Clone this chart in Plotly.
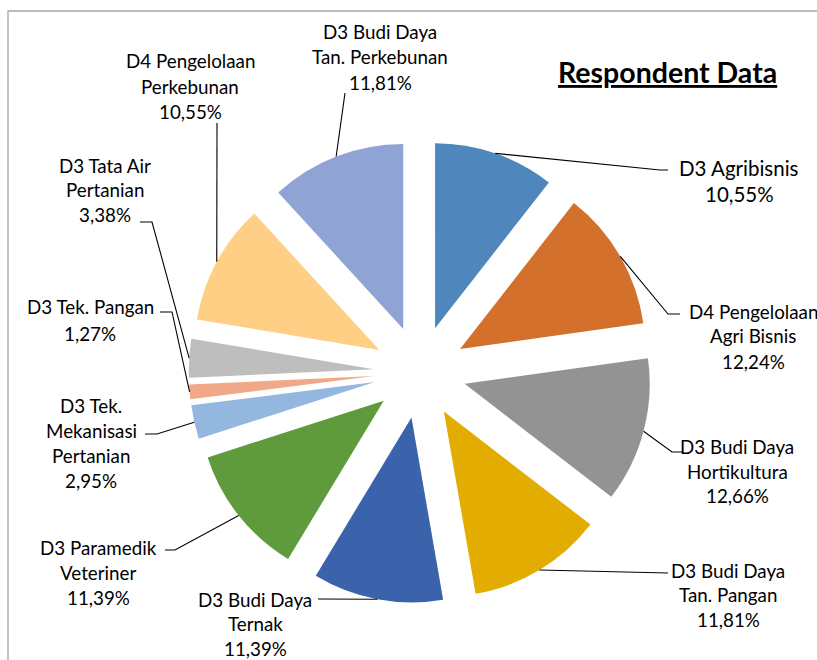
import math
import plotly.graph_objects as go

# ---------------- data ----------------
categories = [
    "D3 Agribisnis", "D4 Pengelolaan Agri Bisnis", "D3 Budi Daya Hortikultura",
    "D3 Budi Daya Tan. Pangan", "D3 Budi Daya Ternak", "D3 Paramedik Veteriner",
    "D3 Tek. Mekanisasi Pertanian", "D3 Tek. Pangan", "D3 Tata Air Pertanian",
    "D4 Pengelolaan Perkebunan", "D3 Budi Daya Tan. Perkebunan",
]
values = [10.55, 12.24, 12.66, 11.81, 11.39, 11.39, 2.95, 1.27, 3.38, 10.55, 11.81]
label_lines = [
    ["D3 Agribisnis"], ["D4 Pengelolaan", "Agri Bisnis"], ["D3 Budi Daya", "Hortikultura"],
    ["D3 Budi Daya", "Tan. Pangan"], ["D3 Budi Daya", "Ternak"], ["D3 Paramedik", "Veteriner"],
    ["D3 Tek.", "Mekanisasi", "Pertanian"], ["D3 Tek. Pangan"], ["D3 Tata Air", "Pertanian"],
    ["D4 Pengelolaan", "Perkebunan"], ["D3 Budi Daya", "Tan. Perkebunan"],
]
colors = ["#4F87BD", "#D2702C", "#939393", "#E2AC00", "#3B63AB", "#5F9A3C",
          "#94B7DF", "#F0A888", "#BEBEBE", "#FFCF85", "#8FA3D4"]
title_text = "Respondent Data"

# ---------------- layout geometry (pixels) ----------------
W, H = 817, 660
CX, CY = 420.0, 372.0
R = 185.0
PULL = 0.25
half = R * (1 + PULL)

# label anchor: center x, first-line y, line step, font size
FS = 18.8
label_pos = [
    (739, 168, 26, 20.5), (753, 311, 25, FS), (737, 446, 25, FS),
    (728, 570, 24.5, FS), (255, 599, 24.5, FS), (98, 547, 25, FS),
    (91, 405, 25.3, FS), (90, 307, 26, FS), (105, 165, 25, FS),
    (190, 61, 25, FS), (380, 31, 25.5, FS),
]
# leader-line bend points toward each label (pixels)
leader_pts = [
    [(660, 170), (668, 170)],
    [(668, 314), (680, 314)],
    [(672, 452), (683, 452)],
    [(668, 573)],
    [(318, 599)],
    [(175, 550), (165, 550)],
    [(157, 434), (145, 434)],
    [(172, 312), (160, 312)],
    [(152, 222), (140, 222)],
    [(217, 123)],
    [(345, 93)],
]


def px(x, y):
    return x / W, 1 - y / H


fig = go.Figure()
fig.add_trace(go.Pie(
    labels=categories, values=values, sort=False, direction="clockwise",
    rotation=0, pull=[PULL] * len(values), textinfo="none", hoverinfo="label+percent",
    marker=dict(colors=colors, line=dict(width=0)), showlegend=False,
    domain=dict(x=[(CX - half) / W, (CX + half) / W], y=[1 - (CY + half) / H, 1 - (CY - half) / H]),
))

total = sum(values)
shapes = []
annotations = []
cum = 0.0
for i, v in enumerate(values):
    a0 = cum / total * 2 * math.pi
    cum += v
    a1 = cum / total * 2 * math.pi
    am = (a0 + a1) / 2
    sx, sy = math.sin(am), -math.cos(am)
    ax, ay = CX + PULL * R * sx, CY + PULL * R * sy
    start = (ax + R * sx, ay + R * sy)
    pts = [start] + leader_pts[i]
    path = "M " + " L ".join(f"{px(x, y)[0]:.5f},{px(x, y)[1]:.5f}" for x, y in pts)
    shapes.append(dict(type="path", xref="paper", yref="paper", path=path,
                       line=dict(color="#000000", width=1.1)))
    lx, ly, step, fs = label_pos[i]
    lines = label_lines[i] + [f"{v:.2f}".replace(".", ",") + "%"]
    for k, t in enumerate(lines):
        xx, yy = px(lx, ly + k * step)
        annotations.append(dict(x=xx, y=yy, xref="paper", yref="paper", text=t,
                                showarrow=False, xanchor="center", yanchor="middle",
                                font=dict(family="Lato", size=fs, color="#000000")))

tx, ty = px(667, 72)
annotations.append(dict(x=tx, y=ty, xref="paper", yref="paper",
                        text=f"<b><u>{title_text}</u></b>", showarrow=False,
                        xanchor="center", yanchor="middle",
                        font=dict(family="Lato", size=28.5, color="#000000")))

# chart frame
fx0, fy0 = px(8, 11)
fx1, fy1 = px(840, 690)
shapes.append(dict(type="rect", xref="paper", yref="paper", x0=fx0, y0=fy1, x1=fx1, y1=fy0,
                   line=dict(color="#A6A6A6", width=1.3), layer="below"))

fig.update_layout(width=W, height=H, margin=dict(l=0, r=0, t=0, b=0),
                  paper_bgcolor="white", plot_bgcolor="white",
                  shapes=shapes, annotations=annotations)
fig.write_html("out.html")
